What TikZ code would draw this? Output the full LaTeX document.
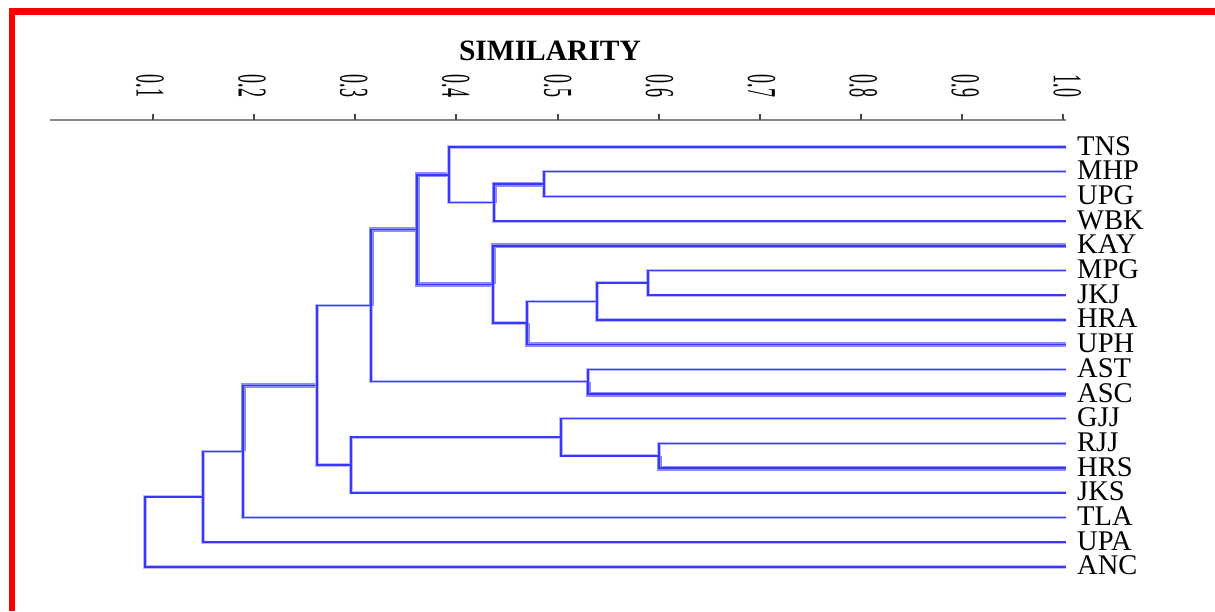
\documentclass[tikz,border=0pt]{standalone}
\usepackage{fontspec}
\setmainfont{Liberation Serif}
\definecolor{framered}{RGB}{255,0,0}
\definecolor{linkcore}{RGB}{55,55,255}
\definecolor{linkhalo}{RGB}{185,185,255}
\definecolor{linkheavy}{RGB}{140,140,255}
\definecolor{axisgray}{RGB}{135,135,135}
\definecolor{tickgray}{RGB}{70,70,70}
\begin{document}
\begin{tikzpicture}[x=1pt,y=-1pt,
  leaf/.style={anchor=base west, inner sep=0pt, text height=19pt, text depth=0pt,
    font=\fontsize{28.5}{29}\selectfont},
  ticklabel/.style={inner sep=0pt},
  tickmark/.style={draw=tickgray, line width=2pt},
  axisline/.style={draw=axisgray, line width=2pt},
  halo/.style={draw=linkhalo, line width=3.2pt},
  heavyhalo/.style={draw=linkheavy, line width=5pt},
  core/.style={draw=linkcore, line width=1.5pt},
  title/.style={anchor=base, inner sep=0pt, font=\bfseries\fontsize{29.5}{30}\selectfont}]
\useasboundingbox (0,0) rectangle (1215,611);
\fill[white] (0,0) rectangle (1215,611);

% red frame along the top and left edges
\fill[framered] (9,8) rectangle (1215,15);
\fill[framered] (9,8) rectangle (15,611);

% title
\node[title] (title) at (550,60) {SIMILARITY};

% similarity axis
\coordinate (ax0) at (50,120);
\coordinate (ax1) at (1066,120);
\draw[axisline] (ax0) -- (ax1);
\foreach \k/\t in {1/0.1,2/0.2,3/0.3,4/0.4,5/0.5,6/0.6,7/0.7,8/0.8,9/0.9,10/1.0}{
  \pgfmathsetmacro{\tx}{52+101.1*\k}
  \pgfmathsetmacro{\lx}{150+101.9*(\k-1)}
  \draw[tickmark] (\tx,114) -- (\tx,120);
  \node[ticklabel] (tick\k) at (\lx,86)
    {\rotatebox{-90}{\scalebox{0.44}[1]{\fontsize{41}{41}\selectfont \t}}};
}

% leaves: line ends and labels
\foreach \n/\lab [count=\i from 0] in {tns/TNS,mhp/MHP,upg/UPG,wbk/WBK,kay/KAY,mpg/MPG,jkj/JKJ,hra/HRA,uph/UPH,ast/AST,asc/ASC,gjj/GJJ,rjj/RJJ,hrs/HRS,jks/JKS,tla/TLA,upa/UPA,anc/ANC}{
  \pgfmathsetmacro{\ly}{147+24.7*\i}
  \coordinate (\n) at (1066,\ly);
  \node[leaf] (lab-\n) at (1077,\ly+8) {\lab};
}

% cluster joins (x = similarity level, y = centre of the two branches)
\coordinate (a) at (544,184.05);
\coordinate (b) at (494,202.6);
\coordinate (c) at (449,174.8);
\coordinate (d) at (648,282.85);
\coordinate (e) at (597,301.4);
\coordinate (f) at (527,323.0);
\coordinate (g) at (493,284.4);
\coordinate (h) at (417,229.6);
\coordinate (i) at (588,381.65);
\coordinate (j) at (371,305.6);
\coordinate (k) at (659,455.75);
\coordinate (l) at (561,437.2);
\coordinate (m) at (351,465.0);
\coordinate (n) at (317,385.3);
\coordinate (o) at (243,451.4);
\coordinate (p) at (203,496.8);
\coordinate (q) at (145,531.85);

% dendrogram links: parent/child/halo style
\def\links{q/p/halo,q/anc/halo,p/o/halo,p/upa/halo,o/n/heavyhalo,o/tla/halo,
  n/j/halo,n/m/halo,m/l/halo,m/jks/halo,l/gjj/halo,l/k/halo,k/rjj/halo,k/hrs/heavyhalo,
  j/h/heavyhalo,j/i/halo,i/ast/halo,i/asc/heavyhalo,h/c/heavyhalo,h/g/heavyhalo,
  c/tns/halo,c/b/halo,b/a/heavyhalo,b/wbk/halo,a/mhp/halo,a/upg/halo,
  g/kay/heavyhalo,g/f/halo,f/e/halo,f/uph/heavyhalo,e/d/halo,e/hra/halo,d/mpg/halo,d/jkj/halo}
\foreach \pa/\ch/\st in \links{
  \draw[\st] (\pa) |- (\ch);
}
\foreach \pa/\ch/\st in \links{
  \draw[core] (\pa) |- (\ch);
}
\end{tikzpicture}
\end{document}
